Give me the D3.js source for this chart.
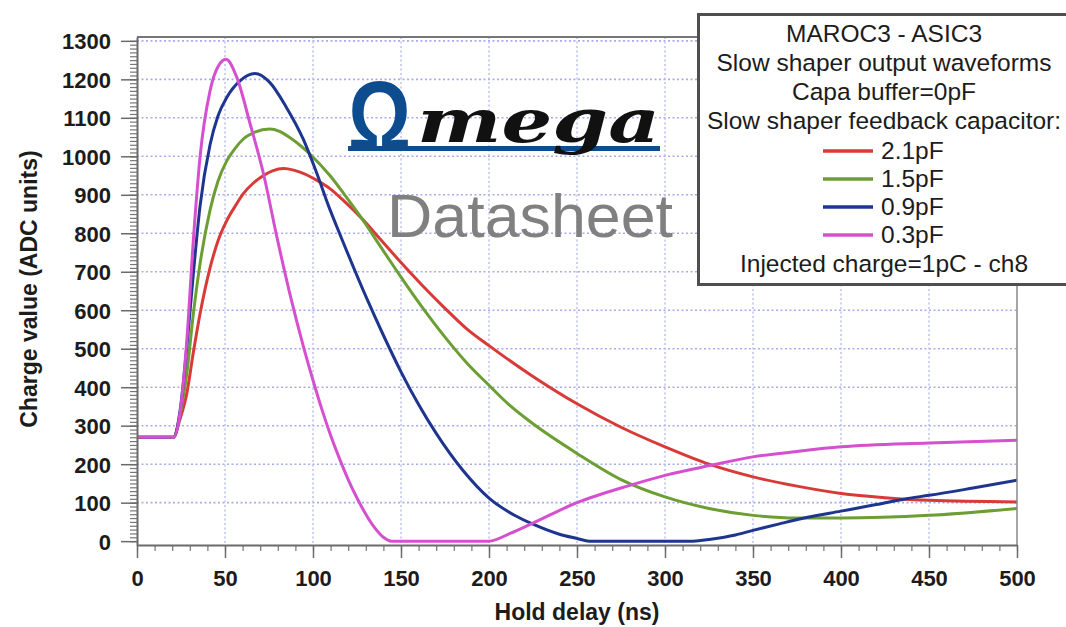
<!DOCTYPE html>
<html><head><meta charset="utf-8">
<script src="https://cdn.jsdelivr.net/npm/d3@7"></script>
<style>body{margin:0;background:#fff}svg{display:block}</style>
</head><body>
<svg id="chart" width="1066" height="627"></svg>
<script>
// ---- data ----
const xTickValues = [0, 50, 100, 150, 200, 250, 300, 350, 400, 450, 500];
const yTickValues = [0, 100, 200, 300, 400, 500, 600, 700, 800, 900, 1000, 1100, 1200, 1300];
const seriesNames = ["2.1pF", "1.5pF", "0.9pF", "0.3pF"];
const seriesColors = ["#d83a38", "#6c9e34", "#1e3590", "#d550cf"];

const tRed   = [0, 20.7, 24.5, 28.3, 32, 35.8, 41.5, 46, 51, 56, 60.4, 66, 71.9, 77, 83.3, 89, 94.8, 102, 109.6, 118, 127.8, 138, 150, 162, 175, 187, 200, 225, 250, 275, 300, 325, 350, 375, 400, 425, 450, 500];
const vRed   = [270, 270, 318, 384, 490, 590, 710, 780, 833, 872, 903, 930, 950, 962, 968, 964, 955, 938, 916, 882, 838, 786, 724, 665, 605, 553, 508, 428, 357, 296, 245, 200, 167, 143, 124, 113, 106, 102];

const tGreen = [0, 20.7, 24.5, 28.3, 32, 35.8, 41.5, 46, 51, 56, 60.4, 67, 75.4, 81, 86.8, 98.2, 109.6, 118, 127.8, 138, 150, 162, 175, 187, 200, 212, 225, 250, 275, 300, 325, 350, 375, 400, 450, 500];
const vGreen = [270, 270, 330, 436, 590, 720, 860, 935, 988, 1022, 1045, 1063, 1071, 1065, 1049, 1006, 950, 900, 838, 768, 686, 608, 530, 465, 405, 352, 305, 228, 160, 115, 85, 67, 60, 60, 67, 85];

const tBlue  = [0, 20.7, 24.5, 28.3, 32, 35.8, 41.5, 46, 51, 58.5, 67, 75.4, 84.9, 94.4, 102, 109.6, 115.5, 130.6, 140, 150, 160, 170, 185, 200, 215, 225, 240, 250, 257, 316, 326, 340, 350, 365, 381, 400, 420, 438, 450, 475, 500];
const vBlue  = [270, 270, 340, 505, 694, 870, 1030, 1105, 1153, 1196, 1215, 1192, 1127, 1045, 958, 862, 795, 630, 535, 440, 355, 280, 185, 112, 66, 44, 18, 7, 0, 0, 5, 16, 28, 45, 62, 78, 95, 111, 119, 138, 158];

const tPink  = [0, 20.7, 24.5, 28.3, 32, 35.8, 41.5, 46.3, 50.6, 56.7, 64.3, 71.9, 79.5, 87, 94.6, 100, 105, 110, 115, 120, 125, 130, 135, 140, 144.5, 200, 212, 225, 250, 280, 300, 326, 350, 375, 400, 450, 500];
const vPink  = [270, 270, 335, 521, 781, 997, 1170, 1235, 1252, 1205, 1084, 954, 790, 640, 505, 418, 343, 275, 215, 160, 112, 70, 35, 10, 0, 0, 20, 47, 100, 145, 171, 197, 219, 233, 245, 255, 262];

const legendLines = ["MAROC3 - ASIC3", "Slow shaper output waveforms", "Capa buffer=0pF", "Slow shaper feedback capacitor:"];
const legendFooter = "Injected charge=1pC - ch8";

// ---- layout ----
const svg = d3.select("#chart");
const L = 137, R = 1017, T = 37, B = 545;
const x = d3.scaleLinear().domain([0, 500]).range([L, R]);
const y = d3.scaleLinear().domain([-10, 1310]).range([B, T]);
const FONT = "'Liberation Sans', Arial, sans-serif";

svg.append("rect").attr("width", 1066).attr("height", 627).attr("fill", "#fff");

// grid
const grid = svg.append("g");
grid.selectAll("line.h").data(yTickValues.filter(d => d > 0)).join("line")
  .attr("x1", L).attr("x2", R).attr("y1", d => y(d)).attr("y2", d => y(d))
  .attr("stroke", "#a6acec").attr("stroke-width", 1.6).attr("stroke-dasharray", "2,2.5");
grid.selectAll("line.v").data(xTickValues.filter(d => d > 0 && d < 500)).join("line")
  .attr("x1", d => x(d)).attr("x2", d => x(d)).attr("y1", T).attr("y2", B)
  .attr("stroke", "#b8bdf0").attr("stroke-width", 1.4).attr("stroke-dasharray", "2,2.5");

// curves
const series = [
  {name: seriesNames[0], color: seriesColors[0], t: tRed, v: vRed},
  {name: seriesNames[1], color: seriesColors[1], t: tGreen, v: vGreen},
  {name: seriesNames[2], color: seriesColors[2], t: tBlue, v: vBlue},
  {name: seriesNames[3], color: seriesColors[3], t: tPink, v: vPink}
];
svg.append("clipPath").attr("id", "clip").append("rect")
  .attr("x", L).attr("y", T).attr("width", R - L).attr("height", B - T);
const line = d3.line().x(d => x(d[0])).y(d => y(d[1])).curve(d3.curveMonotoneX);
const curves = svg.append("g").attr("clip-path", "url(#clip)");
series.forEach(s => {
  curves.append("path").datum(s.t.map((t, i) => [t, s.v[i]]))
    .attr("d", line).attr("fill", "none").attr("stroke", s.color)
    .attr("stroke-width", 3).attr("stroke-linejoin", "round").attr("stroke-linecap", "round");
});

// frame
svg.append("line").attr("x1", L).attr("x2", R).attr("y1", T).attr("y2", T).attr("stroke", "#777").attr("stroke-width", 2);
svg.append("line").attr("x1", R).attr("x2", R).attr("y1", T).attr("y2", B).attr("stroke", "#888").attr("stroke-width", 1.5);

// axes
function styleAxis(g) {
  g.select(".domain").attr("stroke", "#6a6a6a").attr("stroke-width", 2);
  g.selectAll(".tick line").attr("stroke", "#6a6a6a").attr("stroke-width", 1.5);
  g.selectAll("text").attr("font-family", FONT).attr("font-weight", "bold").attr("font-size", 22).attr("fill", "#1c1c1c");
}
svg.append("g").attr("transform", `translate(${L},0)`)
  .call(d3.axisLeft(y).tickValues(d3.range(0, 1301, 10)).tickSize(7).tickFormat("").tickSizeOuter(0))
  .call(g => { g.select(".domain").remove(); g.selectAll("line").attr("stroke", "#777").attr("stroke-width", 1.2); });
svg.append("g").attr("transform", `translate(0,${B})`)
  .call(d3.axisBottom(x).tickValues(d3.range(0, 501, 10)).tickSize(6).tickFormat("").tickSizeOuter(0))
  .call(g => { g.select(".domain").remove(); g.selectAll("line").attr("stroke", "#777").attr("stroke-width", 1.2); });
const yAxis = svg.append("g").attr("transform", `translate(${L},0)`)
  .call(d3.axisLeft(y).tickValues(yTickValues).tickFormat(d3.format("d")).tickSize(16).tickPadding(10).tickSizeOuter(0));
styleAxis(yAxis);
yAxis.selectAll("text").attr("dy", "0.36em");
const xAxis = svg.append("g").attr("transform", `translate(0,${B})`)
  .call(d3.axisBottom(x).tickValues(xTickValues).tickFormat(d3.format("d")).tickSize(13).tickPadding(12).tickSizeOuter(0));
styleAxis(xAxis);

// axis titles
svg.append("text").attr("x", (L + R) / 2).attr("y", 620).attr("text-anchor", "middle")
  .attr("font-family", FONT).attr("font-weight", "bold").attr("font-size", 23).attr("fill", "#1c1c1c")
  .text("Hold delay (ns)");
svg.append("text").attr("transform", "translate(37,289) rotate(-90)").attr("text-anchor", "middle")
  .attr("font-family", FONT).attr("font-weight", "bold").attr("font-size", 23).attr("fill", "#1c1c1c")
  .text("Charge value (ADC units)");

// watermark
const wm = svg.append("g");
wm.append("rect").attr("x", 348).attr("y", 146).attr("width", 312).attr("height", 5).attr("fill", "#0d4c8f");
wm.append("text").attr("x", 348).attr("y", 151).attr("font-family", FONT).attr("font-weight", "bold").attr("font-size", 100)
  .attr("textLength", 63).attr("lengthAdjust", "spacingAndGlyphs").attr("fill", "#0d4c8f").text("Ω");
wm.append("text").attr("x", 417).attr("y", 142).attr("font-family", "'DejaVu Serif', serif").attr("font-style", "italic")
  .attr("font-weight", "bold").attr("font-size", 60).attr("textLength", 243).attr("lengthAdjust", "spacingAndGlyphs")
  .attr("fill", "#111").text("mega");
wm.append("text").attr("x", 387).attr("y", 237).attr("font-family", FONT).attr("font-size", 61)
  .attr("textLength", 286).attr("lengthAdjust", "spacingAndGlyphs").attr("fill", "#808080").text("Datasheet");

// legend
const lg = svg.append("g");
lg.append("rect").attr("x", 698.5).attr("y", 14.5).attr("width", 420).attr("height", 270)
  .attr("fill", "#fff").attr("stroke", "#4f4f4f").attr("stroke-width", 3);
const lx = 884;
const headerY = [42, 71, 100, 128.5];
legendLines.forEach((txt, i) => {
  lg.append("text").attr("x", lx).attr("y", headerY[i]).attr("text-anchor", "middle")
    .attr("font-family", FONT).attr("font-size", 24.5).attr("fill", "#1c1c1c").text(txt);
});
const rowY = [159, 187, 215, 243];
series.forEach((s, i) => {
  lg.append("line").attr("x1", 823).attr("x2", 873).attr("y1", rowY[i] - 8).attr("y2", rowY[i] - 8)
    .attr("stroke", s.color).attr("stroke-width", 3.5);
  lg.append("text").attr("x", 881).attr("y", rowY[i]).attr("font-family", FONT).attr("font-size", 24.5)
    .attr("fill", "#1c1c1c").text(s.name);
});
lg.append("text").attr("x", lx).attr("y", 272).attr("text-anchor", "middle")
  .attr("font-family", FONT).attr("font-size", 24.5).attr("fill", "#1c1c1c").text(legendFooter);
</script>
</body></html>
